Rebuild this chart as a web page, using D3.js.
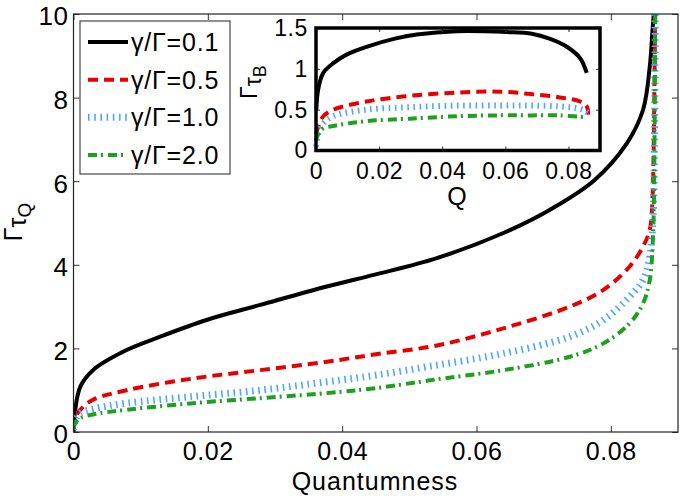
<!DOCTYPE html>
<html>
<head>
<meta charset="utf-8">
<title>tau vs quantumness</title>
<style>
  body { margin: 0; background: #fff; }
  text { font-family: "Liberation Sans", Arial, sans-serif; fill: #000; }
  .tick text { letter-spacing: 0.6px; }
</style>
</head>
<body>
<svg id="chart" width="687" height="498"></svg>
<script src="https://d3js.org/d3.v7.min.js"></script>
<script>
// series labels and ticks
const labels = ["γ/Γ=0.1", "γ/Γ=0.5", "γ/Γ=1.0", "γ/Γ=2.0"];
const xTicks = [0, 0.02, 0.04, 0.06, 0.08];
const yTicks = [0, 2, 4, 6, 8, 10];
const insetYTicks = [0, 0.5, 1, 1.5];

// main panel: Γτ_Q against quantumness
const q01 = [0, 0.0002, 0.001, 0.0029, 0.0079, 0.0129, 0.0198, 0.0278, 0.0377, 0.0450, 0.0541, 0.0640, 0.0714, 0.0776, 0.0824, 0.0848, 0.0858, 0.0862, 0.0864];
const t01 = [0, 0.45, 1.08, 1.48, 1.96, 2.28, 2.68, 3.04, 3.48, 3.77, 4.16, 4.76, 5.36, 6.03, 6.91, 7.71, 8.75, 9.6, 10];
const q05 = [0, 0.0003, 0.001, 0.0029, 0.0079, 0.0178, 0.0278, 0.0377, 0.0450, 0.0541, 0.0640, 0.0739, 0.0789, 0.0828, 0.0848, 0.0858, 0.0862, 0.0864, 0.0865, 0.0866];
const t05 = [0.05, 0.35, 0.53, 0.77, 1.0, 1.28, 1.48, 1.68, 1.86, 2.07, 2.48, 3.0, 3.4, 3.96, 4.44, 4.84, 5.6, 7.0, 8.5, 10];
const q10 = [0, 0.0003, 0.001, 0.0029, 0.0079, 0.0178, 0.0278, 0.0377, 0.0450, 0.0541, 0.0640, 0.0739, 0.0789, 0.0828, 0.0848, 0.0858, 0.0863, 0.0865, 0.0866];
const t10 = [0.05, 0.3, 0.45, 0.55, 0.69, 0.85, 1.0, 1.2, 1.36, 1.6, 1.88, 2.28, 2.68, 3.24, 3.64, 4.2, 5.2, 7.0, 10];
const q20 = [0, 0.0003, 0.001, 0.0029, 0.0079, 0.0178, 0.0278, 0.0377, 0.0450, 0.0541, 0.0640, 0.0739, 0.0789, 0.0828, 0.0848, 0.0858, 0.0863, 0.0865, 0.0866];
const t20 = [0.1, 0.22, 0.33, 0.42, 0.53, 0.69, 0.81, 0.93, 1.05, 1.26, 1.48, 1.8, 2.12, 2.6, 3.08, 3.64, 4.8, 7.0, 10];

// inset: Γτ_B against Q
const qb01 = [0.0001, 0.0007, 0.0023, 0.0055, 0.0100, 0.0160, 0.0250, 0.0319, 0.0446, 0.0604, 0.0684, 0.0740, 0.0795, 0.0837, 0.0858];
const tb01 = [0.5, 0.75, 0.95, 1.07, 1.18, 1.27, 1.37, 1.42, 1.46, 1.45, 1.43, 1.37, 1.27, 1.13, 0.95];
const qb05 = [0, 0.0007, 0.0023, 0.0055, 0.016, 0.0298, 0.045, 0.0583, 0.0684, 0.0773, 0.0837, 0.0858, 0.0863];
const tb05 = [0.2, 0.29, 0.42, 0.5, 0.6, 0.67, 0.71, 0.72, 0.69, 0.65, 0.6, 0.54, 0.44];
const qb10 = [0, 0.0007, 0.0023, 0.0055, 0.016, 0.0298, 0.045, 0.0583, 0.0684, 0.0773, 0.0837, 0.0858, 0.0870];
const tb10 = [0.05, 0.2, 0.33, 0.42, 0.5, 0.53, 0.55, 0.55, 0.55, 0.54, 0.51, 0.47, 0.42];
const qb20 = [0, 0.0007, 0.0023, 0.0055, 0.016, 0.0298, 0.045, 0.0583, 0.0684, 0.0773, 0.0847];
const tb20 = [0.12, 0.2, 0.27, 0.3, 0.36, 0.39, 0.42, 0.43, 0.43, 0.43, 0.41];

// line styles, one per series
const colors = ["#000000", "#e60000", "#4da6ff", "#1f9f1f"];
const dashes = [null, "10,6", "1.6,4.6", "9,4,2,5"];
const widths = [4, 4, 7, 4];

const zip = (xs, ys) => xs.map((x, i) => [x, ys[i]]);
const mainData = [zip(q01, t01), zip(q05, t05), zip(q10, t10), zip(q20, t20)];
const insetData = [zip(qb01, tb01), zip(qb05, tb05), zip(qb10, tb10), zip(qb20, tb20)];

const svg = d3.select("#chart");
const fmt = d3.format("~g");

// ---- main axes ----
const x = d3.scaleLinear().domain([0, 0.09]).range([73.5, 678]);
const y = d3.scaleLinear().domain([0, 10]).range([432, 14]);

svg.append("clipPath").attr("id", "clipMain")
  .append("rect").attr("x", 73.5).attr("y", 12).attr("width", 604.5).attr("height", 420);

const line = d3.line()
  .x(d => x(d[0])).y(d => y(d[1]))
  .curve(d3.curveCatmullRom.alpha(0.5));

svg.append("g").attr("clip-path", "url(#clipMain)")
  .selectAll("path").data(mainData).enter()
  .append("path")
  .attr("d", line)
  .attr("fill", "none")
  .attr("stroke", (d, i) => colors[i])
  .attr("stroke-width", (d, i) => widths[i])
  .attr("stroke-dasharray", (d, i) => dashes[i]);

function styleAxis(g, size) {
  g.select(".domain").remove();
  g.selectAll(".tick line").attr("stroke", "#333").attr("stroke-width", 1);
  g.selectAll(".tick text").attr("font-size", size).attr("fill", "#000");
}

svg.append("g").attr("transform", "translate(0,432)")
  .call(d3.axisBottom(x).tickValues(xTicks).tickFormat(fmt).tickSize(-6).tickPadding(10))
  .call(g => styleAxis(g, 25));
svg.append("g").attr("transform", "translate(0,14)")
  .call(d3.axisTop(x).tickValues(xTicks).tickFormat("").tickSize(-6))
  .call(g => styleAxis(g, 25));
svg.append("g").attr("transform", "translate(73.5,0)")
  .call(d3.axisLeft(y).tickValues(yTicks).tickFormat(fmt).tickSize(-6).tickPadding(5))
  .call(g => styleAxis(g, 26))
  .call(g => g.selectAll(".tick text").attr("dy", "0.42em"));
svg.append("g").attr("transform", "translate(678,0)")
  .call(d3.axisRight(y).tickValues(yTicks).tickFormat("").tickSize(-6))
  .call(g => styleAxis(g, 25));

svg.append("rect")
  .attr("x", 73.5).attr("y", 14).attr("width", 604.5).attr("height", 418)
  .attr("fill", "none").attr("stroke", "#222").attr("stroke-width", 1.2);

svg.append("text")
  .attr("x", 375).attr("y", 490)
  .attr("text-anchor", "middle").attr("font-size", 25).attr("letter-spacing", 1)
  .text("Quantumness");

const yl = svg.append("text")
  .attr("transform", "translate(22,222) rotate(-90)")
  .attr("text-anchor", "middle").attr("font-size", 25);
yl.append("tspan").text("Γ");
yl.append("tspan").attr("dy", 4).text("τ");
yl.append("tspan").attr("dy", 5).attr("font-size", 19).text("Q");

// ---- legend ----
const legend = svg.append("g");
legend.append("rect")
  .attr("x", 80).attr("y", 21).attr("width", 150).attr("height", 153)
  .attr("fill", "#fff").attr("stroke", "#222").attr("stroke-width", 1);
const rowY = d3.scalePoint().domain(d3.range(labels.length)).range([42, 155]);
const rows = legend.selectAll("g.row").data(labels).enter().append("g").attr("class", "row");
rows.append("line")
  .attr("x1", 88).attr("x2", 128)
  .attr("y1", (d, i) => rowY(i)).attr("y2", (d, i) => rowY(i))
  .attr("stroke", (d, i) => colors[i])
  .attr("stroke-width", (d, i) => widths[i])
  .attr("stroke-dasharray", (d, i) => dashes[i]);
rows.append("text")
  .attr("x", 131).attr("y", (d, i) => rowY(i) + 9)
  .attr("font-size", 25).attr("letter-spacing", 0.8)
  .text(d => d);

// ---- inset ----
const xi = d3.scaleLinear().domain([0, 0.09]).range([316, 600]);
const yi = d3.scaleLinear().domain([0, 1.5]).range([150.5, 28]);

svg.append("rect")
  .attr("x", 316).attr("y", 28).attr("width", 284).attr("height", 122.5)
  .attr("fill", "#fff");

const lineI = d3.line()
  .x(d => xi(d[0])).y(d => yi(d[1]))
  .curve(d3.curveCatmullRom.alpha(0.5));

svg.append("g")
  .selectAll("path").data(insetData).enter()
  .append("path")
  .attr("d", lineI)
  .attr("fill", "none")
  .attr("stroke", (d, i) => colors[i])
  .attr("stroke-width", (d, i) => i === 2 ? 6 : 4)
  .attr("stroke-dasharray", (d, i) => dashes[i]);

svg.append("g").attr("transform", "translate(0,150.5)")
  .call(d3.axisBottom(xi).tickValues(xTicks).tickFormat(fmt).tickSize(-4).tickPadding(12))
  .call(g => styleAxis(g, 23));
svg.append("g").attr("transform", "translate(0,28)")
  .call(d3.axisTop(xi).tickValues(xTicks).tickFormat("").tickSize(-4))
  .call(g => styleAxis(g, 23));
svg.append("g").attr("transform", "translate(316,0)")
  .call(d3.axisLeft(yi).tickValues(insetYTicks).tickFormat(fmt).tickSize(-4).tickPadding(8))
  .call(g => styleAxis(g, 23));
svg.append("g").attr("transform", "translate(600,0)")
  .call(d3.axisRight(yi).tickValues(insetYTicks).tickFormat("").tickSize(-4))
  .call(g => styleAxis(g, 23));

svg.append("rect")
  .attr("x", 316).attr("y", 28).attr("width", 284).attr("height", 122.5)
  .attr("fill", "none").attr("stroke", "#000").attr("stroke-width", 3.5);

svg.append("text")
  .attr("x", 457).attr("y", 205)
  .attr("text-anchor", "middle").attr("font-size", 25)
  .text("Q");

const yli = svg.append("text")
  .attr("transform", "translate(257,82) rotate(-90)")
  .attr("text-anchor", "middle").attr("font-size", 23);
yli.append("tspan").text("Γ");
yli.append("tspan").attr("dy", 4).text("τ");
yli.append("tspan").attr("dy", 5).attr("font-size", 18).text("B");
</script>
</body>
</html>
